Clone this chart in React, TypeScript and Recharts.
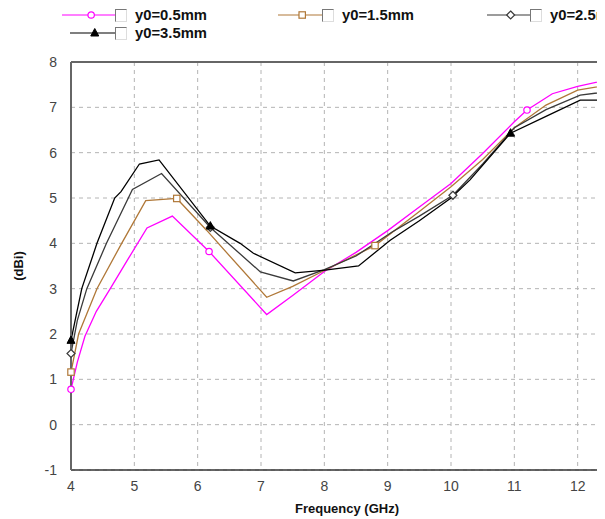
import {
  CartesianGrid,
  Label,
  Legend,
  Line,
  LineChart,
  ReferenceLine,
  XAxis,
  YAxis,
} from 'recharts'

// y0 = 0.5 mm
const f05 = [4, 4.1, 4.22, 4.4, 4.62, 4.9, 5.2, 5.6, 6.18, 7.09, 7.5, 8.0, 8.5, 9.0, 9.5, 10.0, 10.5, 11.0, 11.2, 11.6, 12.0, 12.5]
const g05 = [0.78, 1.38, 1.95, 2.5, 3.0, 3.65, 4.34, 4.6, 3.82, 2.43, 2.85, 3.38, 3.8, 4.28, 4.8, 5.32, 5.98, 6.68, 6.94, 7.3, 7.46, 7.62]
const marks05 = [4, 6.18, 11.2]

// y0 = 1.5 mm
const f15 = [4, 4.12, 4.41, 4.8, 5.18, 5.67, 6.14, 7.09, 7.5, 8.0, 8.8, 9.5, 10.0, 10.5, 11.0, 11.5, 12.0, 12.5]
const g15 = [1.16, 2.0, 3.0, 4.0, 4.94, 4.99, 4.29, 2.81, 3.05, 3.4, 3.95, 4.7, 5.25, 5.85, 6.55, 7.05, 7.38, 7.5]
const marks15 = [4, 5.67, 8.8]

// y0 = 2.5 mm
const f25 = [4, 4.1, 4.25, 4.56, 4.97, 5.43, 6.2, 6.99, 7.51, 8.0, 8.5, 9.07, 9.5, 10.03, 10.5, 11.0, 11.5, 12.04, 12.5]
const g25 = [1.57, 2.3, 3.0, 4.0, 5.19, 5.54, 4.35, 3.37, 3.17, 3.42, 3.72, 4.25, 4.6, 5.06, 5.75, 6.55, 6.95, 7.27, 7.35]
const marks25 = [4, 6.2, 10.03]

// y0 = 3.5 mm
const f35 = [4, 4.08, 4.17, 4.41, 4.69, 4.79, 5.08, 5.39, 6.2, 6.67, 6.88, 7.54, 8.01, 8.54, 9.04, 9.5, 10.0, 10.3, 10.94, 11.5, 12.04, 12.5]
const g35 = [1.86, 2.4, 3.0, 4.0, 5.0, 5.14, 5.75, 5.84, 4.38, 4.0, 3.78, 3.35, 3.41, 3.5, 4.07, 4.5, 5.0, 5.4, 6.43, 6.8, 7.16, 7.16]
const marks35 = [4, 6.2, 10.94]

const xTicks = [4, 5, 6, 7, 8, 9, 10, 11, 12]
const yTicks = [-1, 0, 1, 2, 3, 4, 5, 6, 7, 8]

const FONT = '"Liberation Sans", Arial, sans-serif'

type Shape = 'circle' | 'square' | 'diamond' | 'triangle'

function Marker({ cx, cy, shape, color }: { cx: number; cy: number; shape: Shape; color: string }) {
  if (shape === 'circle') return <circle cx={cx} cy={cy} r={3.2} fill="#fff" stroke={color} strokeWidth={1.2} />
  if (shape === 'square') return <rect x={cx - 3.2} y={cy - 3.2} width={6.4} height={6.4} fill="#fff" stroke={color} strokeWidth={1.2} />
  if (shape === 'diamond')
    return <polygon points={`${cx},${cy - 4} ${cx + 4},${cy} ${cx},${cy + 4} ${cx - 4},${cy}`} fill="#fff" stroke={color} strokeWidth={1.2} />
  return <polygon points={`${cx},${cy - 4.5} ${cx + 4},${cy + 3} ${cx - 4},${cy + 3}`} fill={color} stroke={color} />
}

const series = [
  { name: 'y0=0.5mm', f: f05, g: g05, marks: marks05, color: '#ff00ff', shape: 'circle' as Shape },
  { name: 'y0=1.5mm', f: f15, g: g15, marks: marks15, color: '#b07838', shape: 'square' as Shape },
  { name: 'y0=2.5mm', f: f25, g: g25, marks: marks25, color: '#3a3a3a', shape: 'diamond' as Shape },
  { name: 'y0=3.5mm', f: f35, g: g35, marks: marks35, color: '#000000', shape: 'triangle' as Shape },
]

// legend layout, in chart pixels: line start, line end, row
const legendPos = [
  { x0: 54, x1: 107, top: 0 },
  { x0: 270, x1: 314, top: 0 },
  { x0: 479, x1: 522, top: 0 },
  { x0: 62, x1: 107, top: 18 },
]

function LegendBox() {
  return (
    <div style={{ position: 'relative', height: 40, fontFamily: FONT }}>
      {series.map((s, i) => {
        const p = legendPos[i]
        const w = p.x1 - p.x0
        return (
          <div key={s.name} style={{ position: 'absolute', left: p.x0, top: p.top, display: 'flex', alignItems: 'center', height: 14 }}>
            <svg width={w} height={14} style={{ display: 'block' }}>
              <line x1={0} y1={7} x2={w} y2={7} stroke={s.color} strokeWidth={1.2} />
              <Marker cx={w * 0.55} cy={7} shape={s.shape} color={s.color} />
            </svg>
            <div style={{ width: 12, height: 13, boxSizing: 'border-box', borderTop: '1px solid #777', borderLeft: '1px solid #777', borderRight: '1px solid #ddd', borderBottom: '1px solid #ddd', background: '#fff' }} />
            <span style={{ marginLeft: 8, fontSize: 14.8, fontWeight: 'bold', color: '#111', whiteSpace: 'nowrap' }}>{s.name}</span>
          </div>
        )
      })}
    </div>
  )
}

export default function App() {
  return (
    <div style={{ width: 597, height: 511, overflow: 'hidden' }}>
      <LineChart width={650} height={511} margin={{ top: 14, right: 17, left: 13, bottom: 4 }}>
        <CartesianGrid stroke="#b4b4b4" strokeDasharray="4 4" />
        <XAxis
          type="number"
          dataKey="f"
          domain={[4, 13]}
          ticks={xTicks}
          allowDuplicatedCategory={false}
          height={45}
          tickLine={false}
          tickSize={6}
          tickMargin={5}
          axisLine={{ stroke: '#333', strokeWidth: 1.5 }}
          tick={{ fill: '#444', fontSize: 14, fontFamily: FONT }}
        >
          <Label value="Frequency (GHz)" position="insideBottom" offset={2} dx={-9} style={{ fontFamily: FONT, fontSize: 13, fontWeight: 'bold', fill: '#111' }} />
        </XAxis>
        <YAxis
          type="number"
          domain={[-1, 8]}
          ticks={yTicks}
          width={50}
          tickLine={false}
          tickSize={6}
          tickMargin={8}
          axisLine={{ stroke: '#666', strokeWidth: 2 }}
          tick={{ fill: '#444', fontSize: 14, fontFamily: FONT }}
        >
          <Label value="(dBi)" angle={-90} position="center" dx={-28} style={{ fontFamily: FONT, fontSize: 13, fontWeight: 'bold', fill: '#111' }} />
        </YAxis>
        <ReferenceLine y={8} stroke="#666" strokeWidth={2} />
        <Legend verticalAlign="top" align="left" height={40} content={() => <LegendBox />} wrapperStyle={{ left: 0, top: 0, width: 597 }} />
        {series.map((s) => (
          <Line
            key={s.name}
            name={s.name}
            data={s.f.map((f, i) => ({ f, g: s.g[i] }))}
            dataKey="g"
            type="linear"
            stroke={s.color}
            strokeWidth={1.3}
            isAnimationActive={false}
            activeDot={false}
            dot={(p: any) =>
              s.marks.includes(p.payload.f) ? (
                <Marker key={`${s.name}-${p.index}`} cx={p.cx} cy={p.cy} shape={s.shape} color={s.color} />
              ) : (
                <g key={`${s.name}-${p.index}`} />
              )
            }
          />
        ))}
      </LineChart>
    </div>
  )
}
